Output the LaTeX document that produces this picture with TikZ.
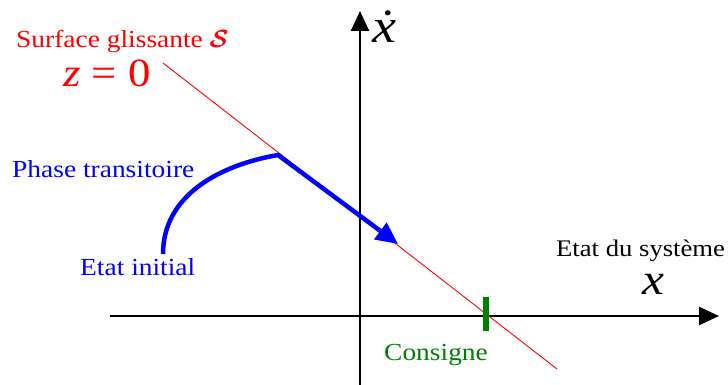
\documentclass[tikz,border=0pt]{standalone}
\usepackage{amsmath}
\usepackage{fontspec}
\setmainfont[FakeStretch=1.12]{Liberation Serif}
\usetikzlibrary{arrows.meta}
\definecolor{dgreen}{RGB}{0,128,0}
\begin{document}
\begin{tikzpicture}[x=1pt,y=-1pt,
  lbl/.style={inner sep=0pt,anchor=base west,font=\fontsize{24.5}{28}\selectfont},
  axis/.style={line width=2.6pt,-{Triangle[length=20pt,width=18pt]}},
  traj/.style={blue,line width=4.5pt,line join=round,-{Triangle[length=22pt,width=20pt]}}]
\useasboundingbox (0,0) rectangle (728,385);
% axes
\coordinate (xa0) at (110,316);
\coordinate (xa1) at (719,316);
\coordinate (ya0) at (360,386);
\coordinate (ya1) at (360,11);
\draw[axis] (xa0) -- (xa1);
\draw[axis] (ya0) -- (ya1);
% sliding surface
\coordinate (s1) at (163,63);
\coordinate (s2) at (557,369);
\draw[red,line width=0.9pt] (s1) -- (s2);
% consigne tick
\coordinate (c1) at (486,297);
\coordinate (c2) at (486,331);
\draw[dgreen,line width=6pt] (c1) -- (c2);
% trajectory
\coordinate (t0) at (163,254);
\coordinate (t1) at (278,155);
\coordinate (t2) at (398,244);
\draw[traj] (t0) .. controls (163,195) and (220,165) .. (t1) -- (t2);
% labels
\node[lbl,red] (sg) at (16,48) {Surface glissante $\boldsymbol{\mathcal{S}}$};
\node[lbl,red,font=\fontsize{40}{44}\selectfont] (z0) at (63,87) {\textit{z} = 0};
\node[lbl,font=\fontsize{48}{52}\selectfont] (xd) at (372,43) {\textit{\.{x}}};
\node[lbl,blue] (ph) at (12,177) {Phase transitoire};
\node[lbl,blue] (ei) at (80,275) {Etat initial};
\node[lbl,font=\fontsize{23.8}{28}\selectfont] (es) at (556,256) {Etat du système};
\node[lbl,font=\fontsize{44}{48}\selectfont] (xl) at (642,294) {\textit{x}};
\node[lbl,dgreen] (cs) at (384,360) {Consigne};
\end{tikzpicture}
\end{document}
